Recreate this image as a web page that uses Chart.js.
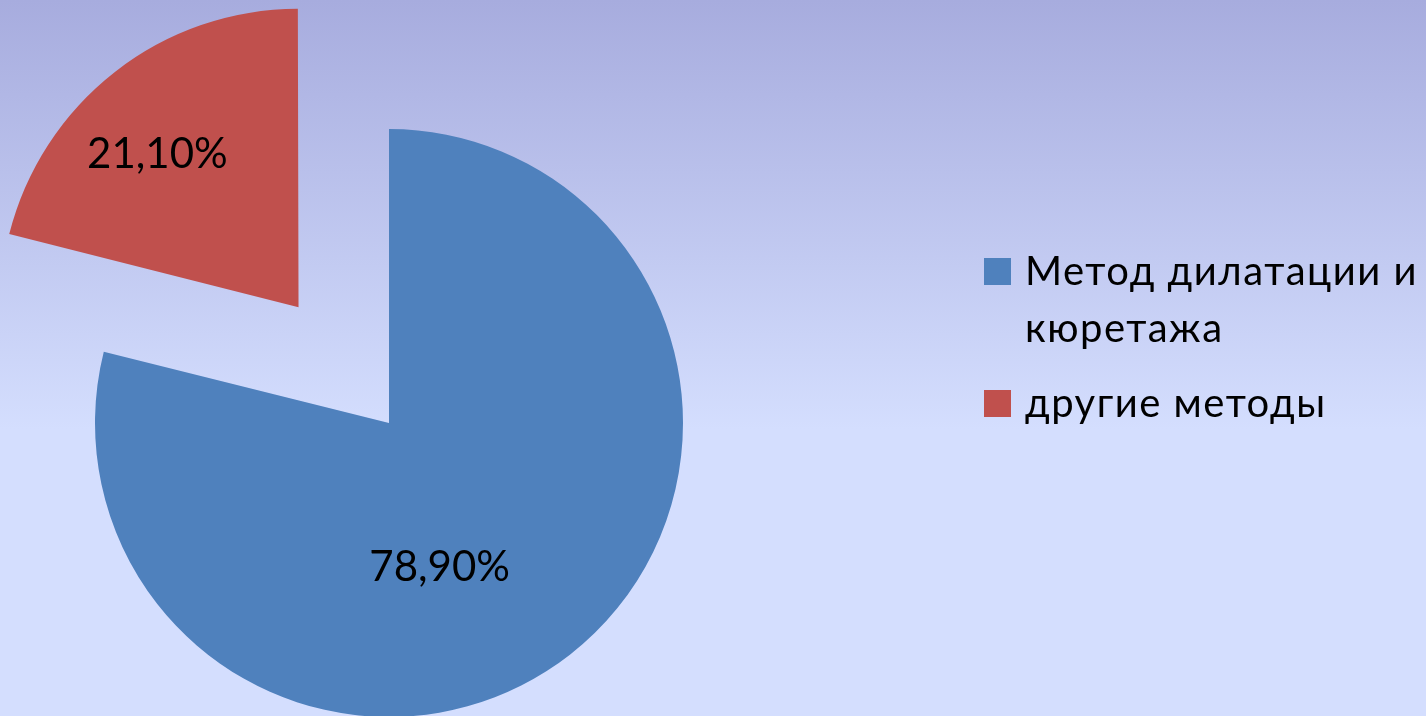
<!DOCTYPE html>
<html>
<head>
<meta charset="utf-8">
<script src="https://cdn.jsdelivr.net/npm/chart.js@4"></script>
<style>
    html, body { margin: 0; padding: 0; }
    #wrap {
        width: 1426px;
        height: 716px;
        background: linear-gradient(to bottom, #a7acde 0%, #d4defe 60%, #d4defe 100%);
    }
    canvas { display: block; }
</style>
</head>
<body>
<div id="wrap"><canvas id="pieChart" width="1426" height="716"></canvas></div>
<script>
// data
const categories = [['Метод дилатации и', 'кюретажа'], ['другие методы']];
const shares = [78.9, 21.1];
const valueLabels = ['78,90%', '21,10%'];

const sliceColors = ['#4f81bd', '#c0504d'];
const sliceOffsets = [0, 588];            // chart.js moves a slice by offset / 4
const labelSpot = [[0.565, 0.516], [0.44, 0.71]]; // [angle share, radius share]

const FONT = 'Lato, "Open Sans", sans-serif';

// percentage labels inside the slices
const sliceLabels = {
    id: 'sliceLabels',
    afterDatasetsDraw(chart) {
        const ctx = chart.ctx;
        const arcs = chart.getDatasetMeta(0).data;
        ctx.save();
        ctx.font = `42px ${FONT}`;
        ctx.fillStyle = '#000';
        ctx.textAlign = 'center';
        ctx.textBaseline = 'alphabetic';
        arcs.forEach((arc, i) => {
            const { x, y, startAngle, endAngle, outerRadius } = arc.getProps(['x', 'y', 'startAngle', 'endAngle', 'outerRadius'], true);
            const half = (startAngle + endAngle) / 2;
            const shift = (arc.options.offset || 0) / 4;
            const cx = x + Math.cos(half) * shift;
            const cy = y + Math.sin(half) * shift;
            const a = startAngle + (endAngle - startAngle) * labelSpot[i][0];
            const r = outerRadius * labelSpot[i][1];
            ctx.fillText(valueLabels[i], cx + Math.cos(a) * r, cy + Math.sin(a) * r + 15);
        });
        ctx.restore();
    }
};

// legend on the right, with wrapped first entry
const sideLegend = {
    id: 'sideLegend',
    afterDraw(chart) {
        const ctx = chart.ctx;
        const boxX = 984, box = 27, textX = 1025;
        const lineHeight = 57, itemGap = 18;
        let baseline = 285;
        ctx.save();
        ctx.font = `40px ${FONT}`;
        ctx.letterSpacing = '1.5px';
        ctx.textAlign = 'left';
        ctx.textBaseline = 'alphabetic';
        chart.data.labels.forEach((lines, i) => {
            ctx.fillStyle = chart.data.datasets[0].backgroundColor[i];
            ctx.fillRect(boxX, baseline - box, box, box);
            ctx.fillStyle = '#000';
            lines.forEach((line, j) => {
                ctx.fillText(line, textX, baseline + j * lineHeight);
            });
            baseline += lines.length * lineHeight + itemGap;
        });
        ctx.restore();
    }
};

new Chart(document.getElementById('pieChart'), {
    type: 'pie',
    data: {
        labels: categories,
        datasets: [{
            data: shares,
            backgroundColor: sliceColors,
            borderWidth: 0,
            offset: sliceOffsets,
            clip: false
        }]
    },
    options: {
        responsive: false,
        animation: false,
        radius: 294,
        cutout: '0%',
        layout: { padding: { left: 0, right: 648, top: 130, bottom: 0 } },
        plugins: {
            legend: { display: false },
            tooltip: { enabled: false }
        }
    },
    plugins: [sliceLabels, sideLegend]
});
</script>
</body>
</html>
